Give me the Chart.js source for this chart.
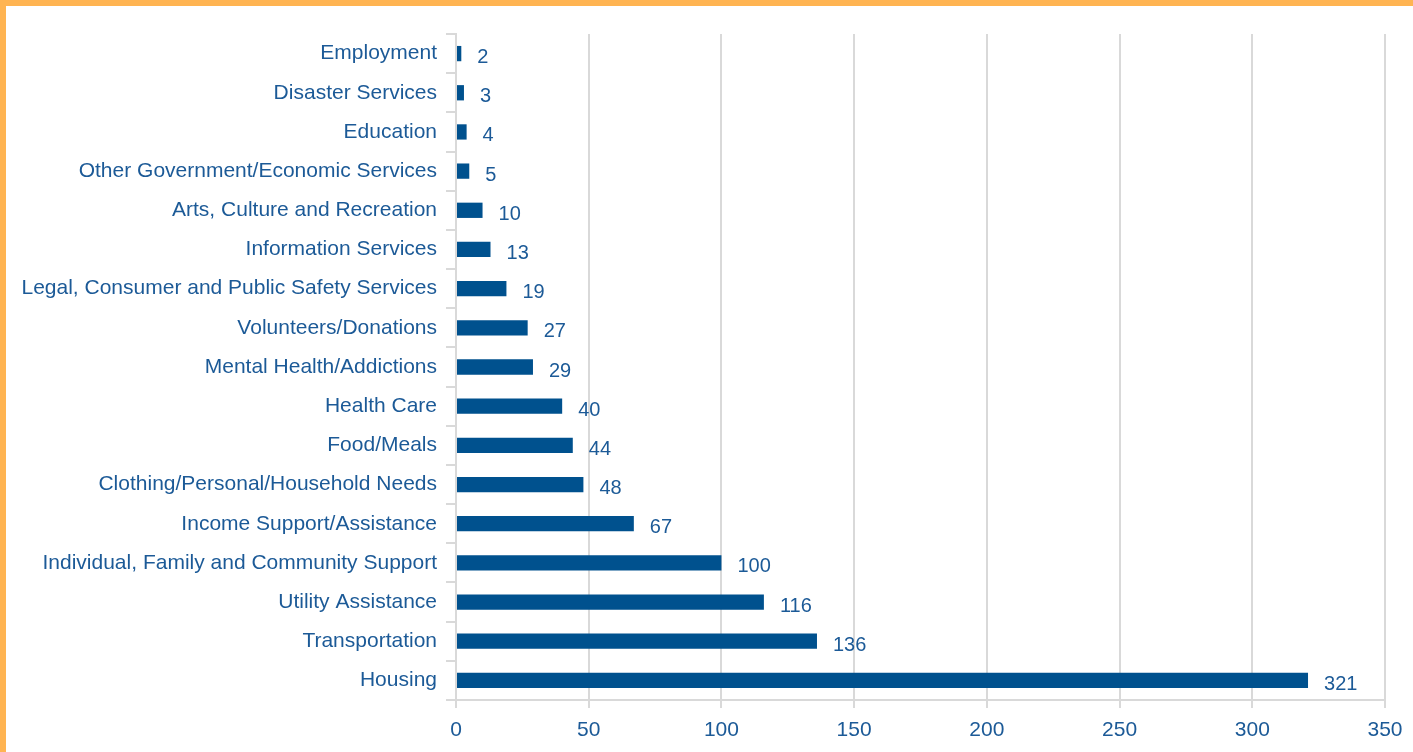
<!DOCTYPE html>
<html>
<head>
<meta charset="utf-8">
<script src="https://cdn.jsdelivr.net/npm/chart.js@4/dist/chart.umd.min.js"></script>
<style>
  html, body { margin: 0; padding: 0; background: #fff; }
  #wrap {
    width: 1407px; height: 746px;
    border-top: 6px solid #FFB452;
    border-left: 6px solid #FFB452;
    background: #fff;
  }
</style>
</head>
<body>
<div id="wrap"><canvas id="myChart" width="1407" height="746"></canvas></div>
<script>
// categories, top to bottom
var categories = [
  'Employment',
  'Disaster Services',
  'Education',
  'Other Government/Economic Services',
  'Arts, Culture and Recreation',
  'Information Services',
  'Legal, Consumer and Public Safety Services',
  'Volunteers/Donations',
  'Mental Health/Addictions',
  'Health Care',
  'Food/Meals',
  'Clothing/Personal/Household Needs',
  'Income Support/Assistance',
  'Individual, Family and Community Support',
  'Utility Assistance',
  'Transportation',
  'Housing'
];
var counts = [2, 3, 4, 5, 10, 13, 19, 27, 29, 40, 44, 48, 67, 100, 116, 136, 321];
var xTicks = [0, 50, 100, 150, 200, 250, 300, 350];

var textColor = '#1C5A97';
var barColor = '#00518E';
var gridColor = '#D9D9D9';
var fontFam = '"Liberation Sans", Arial, sans-serif';

// valeurs au bout des barres
var barValues = {
  id: 'barValues',
  afterDatasetsDraw: function(chart) {
    var ctx = chart.ctx;
    var meta = chart.getDatasetMeta(0);
    ctx.save();
    ctx.font = '20px ' + fontFam;
    ctx.fillStyle = textColor;
    ctx.textAlign = 'left';
    ctx.textBaseline = 'middle';
    meta.data.forEach(function(bar, i) {
      ctx.fillText(String(counts[i]), bar.x + 16, bar.y + 4);
    });
    ctx.restore();
  }
};

const ctx = document.getElementById('myChart').getContext('2d');
const myChart = new Chart(ctx, {
  type: 'bar',
  data: {
    labels: categories,
    datasets: [{
      data: counts,
      backgroundColor: barColor,
      borderWidth: 0,
      barPercentage: 0.78,
      categoryPercentage: 0.5
    }]
  },
  options: {
    indexAxis: 'y',
    responsive: false,
    animation: false,
    layout: { padding: { top: 28, right: 28, left: 0, bottom: 0 } },
    plugins: {
      legend: { display: false },
      tooltip: { enabled: false }
    },
    scales: {
      x: {
        min: 0,
        max: 350,
        afterBuildTicks: function(scale) {
          scale.ticks = xTicks.map(function(v) { return { value: v }; });
        },
        afterFit: function(scale) { scale.height = 52; },
        grid: {
          color: gridColor,
          lineWidth: 2,
          tickLength: 8,
          tickColor: gridColor
        },
        border: { display: true, color: gridColor, width: 2 },
        ticks: {
          color: textColor,
          padding: 10,
          font: { family: fontFam, size: 21 }
        }
      },
      y: {
        afterFit: function(scale) { scale.width = 450; },
        grid: {
          offset: true,
          drawOnChartArea: false,
          color: gridColor,
          lineWidth: 2,
          tickLength: 10
        },
        border: { display: true, color: gridColor, width: 2 },
        ticks: {
          color: textColor,
          padding: 9,
          autoSkip: false,
          font: { family: fontFam, size: 21 }
        }
      }
    }
  },
  plugins: [barValues]
});
</script>
</body>
</html>
